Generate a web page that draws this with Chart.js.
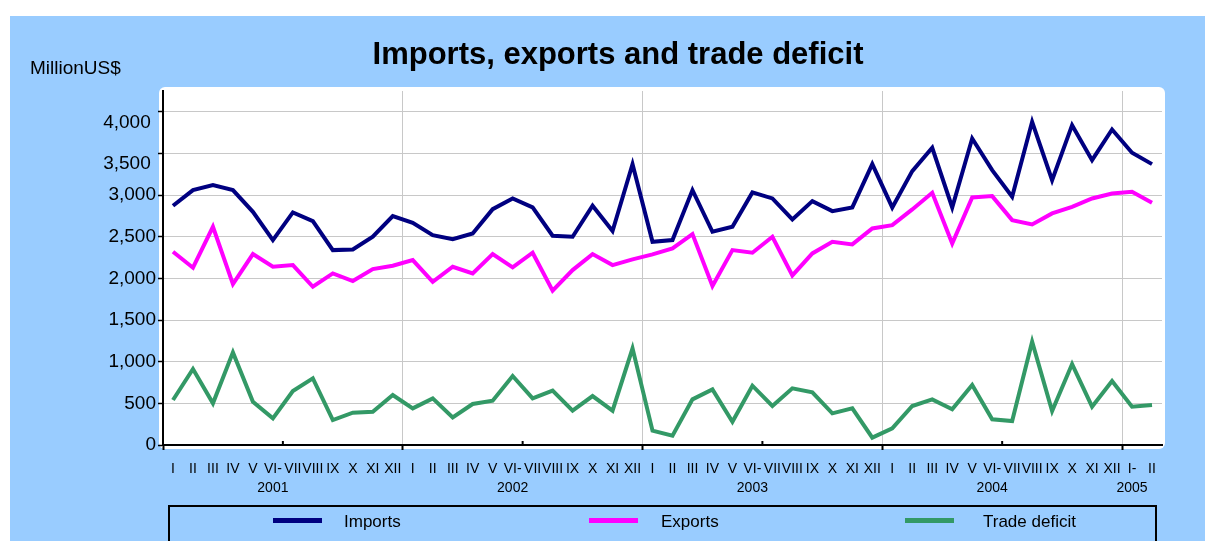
<!DOCTYPE html>
<html>
<head>
<meta charset="utf-8">
<script src="https://cdn.jsdelivr.net/npm/chart.js@4/dist/chart.umd.min.js"></script>
<style>
  html, body { margin: 0; padding: 0; background: #ffffff; }
  #wrap { position: relative; width: 1205px; height: 541px; overflow: hidden; font-family: "Liberation Sans", Arial, sans-serif; }
  #c { position: absolute; left: 0; top: 0; }
  .txt { position: absolute; white-space: nowrap; color: #000; }
  #title { left: 0; width: 1236px; top: 38px; text-align: center; font-weight: bold; font-size: 31px; line-height: 31px; }
  #unit { left: 30px; top: 58px; font-size: 19px; line-height: 19px; }
  #legend { position: absolute; left: 168px; top: 505px; width: 989px; height: 60px; border: 2px solid #000; box-sizing: border-box; }
  .lg-line { position: absolute; height: 5px; width: 49px; }
  .lg-text { position: absolute; font-size: 17px; line-height: 17px; }
</style>
</head>
<body>
<div id="wrap">
  <canvas id="c" width="1205" height="541"></canvas>
  <div class="txt" id="title">Imports, exports and trade deficit</div>
  <div class="txt" id="unit">MillionUS$</div>
  <div id="legend"></div>
</div>
<script>
// ---- data (Million US$), Jan 2001 .. Feb 2005 ----
const years = ['2001', '2002', '2003', '2004', '2005'];
const monthsPerYear = [12, 12, 12, 12, 2];
const monthTicks = ['I', 'II', 'III', 'IV', 'V', 'VI-', 'VII', 'VIII', 'IX', 'X', 'XI', 'XII'];
const lastYearTicks = ['I-', 'II'];

const imports = [2872, 3060, 3120, 3060, 2800, 2460, 2792, 2688, 2340, 2348, 2500, 2748,
                 2668, 2520, 2472, 2540, 2832, 2960, 2852, 2512, 2500, 2872, 2568, 3372,
                 2440, 2460, 3060, 2560, 2620, 3032, 2960, 2708, 2928, 2808, 2852, 3372,
                 2852, 3288, 3568, 2852, 3680, 3300, 2980, 3880, 3180, 3840, 3420, 3788,
                 3508, 3372];
const exports_ = [2320, 2128, 2620, 1932, 2292, 2140, 2160, 1900, 2060, 1968, 2112, 2152,
                  2220, 1960, 2140, 2060, 2292, 2132, 2308, 1852, 2100, 2292, 2160, 2228,
                  2288, 2360, 2532, 1908, 2340, 2308, 2500, 2036, 2300, 2440, 2408, 2600,
                  2640, 2828, 3028, 2420, 2972, 2988, 2700, 2648, 2780, 2860, 2960, 3020,
                  3040, 2908];
const deficit = [540, 912, 500, 1112, 520, 320, 648, 800, 300, 388, 400, 600,
                 440, 560, 332, 492, 532, 828, 560, 652, 412, 588, 412, 1160,
                 172, 112, 548, 668, 280, 712, 468, 680, 632, 380, 440, 88,
                 200, 468, 548, 428, 720, 308, 288, 1240, 408, 972, 460, 768,
                 460, 480];
const yTicks = [0, 500, 1000, 1500, 2000, 2500, 3000, 3500, 4000];

const seriesNames = ['Imports', 'Exports', 'Trade deficit'];
const seriesColors = ['#000080', '#FF00FF', '#339966'];

// ---- build category labels (roman month, year under the June / January label) ----
const labels = [];
years.forEach((y, yi) => {
  const n = monthsPerYear[yi];
  const ticks = n === 12 ? monthTicks : lastYearTicks;
  const yearAt = n === 12 ? 5 : 0;
  for (let m = 0; m < n; m++) {
    labels.push(m === yearAt ? [ticks[m], y] : ticks[m]);
  }
});

// ---- legend (HTML) ----
const legend = document.getElementById('legend');
const lgLineX = [273, 589, 905];
const lgTextX = [344, 661, 983];
seriesNames.forEach((name, i) => {
  const l = document.createElement('div');
  l.className = 'lg-line';
  l.style.left = (lgLineX[i] - 168 - 2) + 'px';
  l.style.top = (518 - 505 - 2) + 'px';
  l.style.background = seriesColors[i];
  legend.appendChild(l);
  const t = document.createElement('div');
  t.className = 'lg-text';
  t.textContent = name;
  t.style.left = (lgTextX[i] - 168 - 2) + 'px';
  t.style.top = (513 - 505 - 2) + 'px';
  legend.appendChild(t);
});

// ---- plugins ----
const bgPlugin = {
  id: 'bg',
  beforeDraw(chart) {
    const ctx = chart.ctx;
    ctx.save();
    ctx.fillStyle = '#ffffff';
    ctx.fillRect(0, 0, chart.width, chart.height);
    ctx.fillStyle = '#99CCFF';
    ctx.fillRect(10, 16, chart.width - 10, chart.height - 16);
    ctx.fillStyle = '#ffffff';
    ctx.beginPath();
    ctx.roundRect(159, 87, 1006, 362, 6);
    ctx.fill();
    ctx.restore();
  }
};
const midTickPlugin = {
  id: 'midTicks',
  afterDraw(chart) {
    const xs = chart.scales.x;
    const ctx = chart.ctx;
    const yb = chart.chartArea.bottom;
    ctx.save();
    ctx.strokeStyle = '#000';
    ctx.lineWidth = 2;
    for (let i = 6; i < labels.length; i += 12) {
      const x = (xs.getPixelForTick(i - 1) + xs.getPixelForTick(i)) / 2;
      ctx.beginPath();
      ctx.moveTo(x, yb - 4);
      ctx.lineTo(x, yb);
      ctx.stroke();
    }
    ctx.restore();
  }
};

const font = { family: '"Liberation Sans", Arial, sans-serif' };

new Chart(document.getElementById('c'), {
  type: 'line',
  data: {
    labels: labels,
    datasets: [imports, exports_, deficit].map((d, i) => ({
      label: seriesNames[i],
      data: d,
      borderColor: seriesColors[i],
      backgroundColor: seriesColors[i],
      borderWidth: 4,
      pointRadius: 0,
      pointHoverRadius: 0,
      tension: 0,
      fill: false
    }))
  },
  options: {
    responsive: false,
    animation: false,
    devicePixelRatio: 1,
    layout: { padding: { top: 91, bottom: 36, left: 0, right: 43 } },
    plugins: { legend: { display: false }, title: { display: false }, tooltip: { enabled: false } },
    scales: {
      x: {
        type: 'category',
        offset: true,
        border: { color: '#000', width: 2 },
        grid: {
          offset: true,
          drawOnChartArea: true,
          color: (c) => (c.index !== undefined && c.index > 0 && c.index % 12 === 0) ? '#c8c8c8' : 'rgba(0,0,0,0)',
          tickColor: (c) => (c.index !== undefined && c.index % 12 === 0) ? '#000' : 'rgba(0,0,0,0)',
          tickLength: 5,
          tickWidth: 2,
          lineWidth: 1
        },
        ticks: {
          autoSkip: false,
          maxRotation: 0,
          minRotation: 0,
          padding: 10,
          color: '#000',
          font: { ...font, size: 14, lineHeight: 1.35 }
        },
        afterFit(scale) { scale.height = 60; }
      },
      y: {
        min: 0,
        max: 4250,
        border: { color: '#000', width: 2 },
        grid: { color: '#c8c8c8', lineWidth: 1, tickColor: '#000', tickLength: 5, tickWidth: 1.5 },
        afterBuildTicks(scale) { scale.ticks = yTicks.map(v => ({ value: v })); },
        ticks: {
          autoSkip: false,
          padding: 2,
          color: '#000',
          font: { ...font, size: 19, lineHeight: 1.1 },
          // the two top labels sit half a line below their gridlines in the original
          callback: (v) => v >= 3500 ? ['', v.toLocaleString('en-US') + ' '] : v.toLocaleString('en-US')
        },
        afterFit(scale) { scale.width = 163; }
      }
    }
  },
  plugins: [bgPlugin, midTickPlugin]
});
</script>
</body>
</html>
